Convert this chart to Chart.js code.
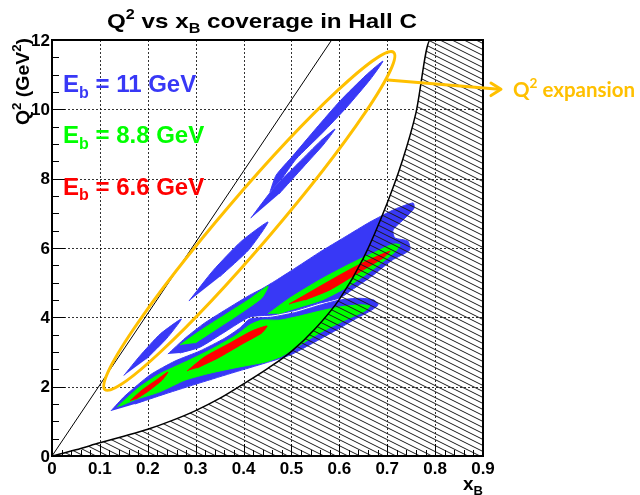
<!DOCTYPE html>
<html>
<head>
<meta charset="utf-8">
<script src="https://cdn.jsdelivr.net/npm/chart.js@4/dist/chart.umd.min.js"></script>
<style>
  html, body { margin: 0; padding: 0; background: #fff; }
  canvas { display: block; }
</style>
</head>
<body>
<canvas id="c" width="640" height="495"></canvas>
<script>
// ---- axis labels ----
const xTickLabels = ['0', '0.1', '0.2', '0.3', '0.4', '0.5', '0.6', '0.7', '0.8', '0.9'];
const yTickLabels = ['0', '2', '4', '6', '8', '10', '12'];

// ---- kinematic coverage outlines, [x_B, Q^2 (GeV^2)] ----
// E_b = 11 GeV
const blue11Lower = [[0.123,1.30],[0.152,1.73],[0.205,2.34],[0.257,2.74],[0.309,3.03],[0.361,3.40],[0.392,3.69],[0.413,3.95],[0.461,4.01],[0.511,4.15],[0.559,4.35],[0.601,4.50],[0.643,4.55],[0.672,4.50],[0.681,4.36],[0.664,4.18],[0.633,3.95],[0.601,3.69],[0.549,3.29],[0.497,2.91],[0.445,2.68],[0.382,2.42],[0.309,2.11],[0.236,1.79],[0.173,1.50]];
const blue11Upper = [[0.242,2.94],[0.278,3.40],[0.319,3.84],[0.372,4.30],[0.413,4.64],[0.438,4.82],[0.466,5.05],[0.518,5.51],[0.559,5.88],[0.612,6.32],[0.664,6.75],[0.716,7.12],[0.754,7.30],[0.756,7.15],[0.737,6.86],[0.712,6.52],[0.716,6.29],[0.743,6.20],[0.747,5.94],[0.710,5.65],[0.668,5.19],[0.626,4.79],[0.601,4.56],[0.559,4.41],[0.511,4.21],[0.461,4.07],[0.413,4.01],[0.361,3.58],[0.309,3.14],[0.267,2.97]];
const blue11Band1 = [[0.150,2.32],[0.183,2.88],[0.226,3.52],[0.270,3.95],[0.240,3.40],[0.197,2.80]];
const blue11Band2 = [[0.286,4.47],[0.337,5.36],[0.395,6.19],[0.451,6.75],[0.411,5.95],[0.351,5.18]];
const blue11Band3 = [[0.415,6.86],[0.462,7.71],[0.516,8.47],[0.561,9.09],[0.591,9.43],[0.568,9.00],[0.525,8.34],[0.474,7.56]];
const blue11Band4 = [[0.455,7.61],[0.468,8.10],[0.503,8.66],[0.552,9.46],[0.602,10.25],[0.656,10.99],[0.691,11.39],[0.665,10.87],[0.616,10.07],[0.564,9.31],[0.510,8.57],[0.478,7.96]];
// E_b = 8.8 GeV
const green88Lower = [[0.136,1.41],[0.180,1.96],[0.225,2.37],[0.278,2.71],[0.330,3.06],[0.382,3.46],[0.413,3.78],[0.438,3.92],[0.476,3.92],[0.518,4.04],[0.559,4.18],[0.601,4.30],[0.643,4.36],[0.664,4.33],[0.653,4.18],[0.612,3.92],[0.559,3.55],[0.518,3.20],[0.480,2.88],[0.445,2.71],[0.392,2.57],[0.330,2.39],[0.278,2.19],[0.225,1.85],[0.173,1.62],[0.142,1.44]];
const green88Mid = [[0.267,3.20],[0.309,3.61],[0.361,4.07],[0.413,4.53],[0.451,4.90],[0.438,4.56],[0.392,4.10],[0.340,3.63],[0.299,3.26]];
const green88Upper = [[0.451,4.10],[0.497,4.56],[0.559,5.08],[0.622,5.54],[0.674,5.88],[0.712,6.11],[0.727,6.09],[0.714,5.86],[0.668,5.36],[0.616,4.87],[0.564,4.50],[0.511,4.27],[0.472,4.10]];
// E_b = 6.6 GeV
const red66Low = [[0.163,1.59],[0.188,1.90],[0.217,2.18],[0.242,2.42],[0.230,2.19],[0.200,1.86],[0.175,1.64]];
const red66Mid = [[0.282,2.45],[0.319,2.86],[0.372,3.26],[0.418,3.61],[0.449,3.75],[0.438,3.55],[0.397,3.23],[0.347,2.83],[0.303,2.54]];
const red66High = [[0.495,4.38],[0.539,4.73],[0.601,5.22],[0.653,5.60],[0.706,5.91],[0.691,5.71],[0.639,5.28],[0.580,4.79],[0.528,4.50]];

// ---- boundaries ----
const w2Boundary = [[0,0],[0.05,0.18],[0.1,0.38],[0.15,0.57],[0.2,0.77],[0.25,1.02],[0.3,1.31],[0.35,1.66],[0.4,2.08],[0.45,2.52],[0.5,3.02],[0.55,3.68],[0.6,4.52],[0.65,5.7],[0.7,7.3],[0.73,8.45],[0.76,9.9],[0.79,12],[0.9,12]];
const yLimitLine = [[0,0],[0.584,12]];

const C11 = '#3838F6', C88 = '#00FF00', C66 = '#FF0000', GOLD = '#FFC000';
const HELV = "'Liberation Sans', Arial, Helvetica, sans-serif";

function region(points, color, order) {
  return { data: points, showLine: true, fill: 'shape', backgroundColor: color, borderColor: color,
           borderWidth: 1, pointRadius: 0, tension: 0.2, order };
}

function hatchPattern() {
  const c = document.createElement('canvas');
  c.width = 12; c.height = 6;
  const g = c.getContext('2d');
  g.strokeStyle = '#1a1a1a'; g.lineWidth = 1;
  for (let k = -1; k <= 1; k++) {
    g.beginPath(); g.moveTo(0, 6 * k); g.lineTo(12, 6 * k + 6); g.stroke();
  }
  return g.createPattern(c, 'repeat');
}

// text with super/subscripts; parts = [[text, ''|'sup'|'sub'], ...]
function drawRich(ctx, parts, x, y, size, opts) {
  const fam = opts.family || HELV;
  const fontFor = k => `bold ${k ? Math.round(size * 0.68) : size}px ${fam}`;
  const shift = k => k === 'sup' ? -size * 0.42 : (k === 'sub' ? size * 0.24 : 0);
  let w = 0;
  for (const [t, k] of parts) { ctx.font = fontFor(k); w += ctx.measureText(t).width; }
  const sx = opts.width ? opts.width / w : 1;
  const start = opts.align === 'right' ? x - w * sx : (opts.align === 'center' ? x - w * sx / 2 : x);
  ctx.save();
  ctx.fillStyle = opts.color || '#000';
  ctx.textBaseline = 'alphabetic'; ctx.textAlign = 'left';
  ctx.translate(start, y); ctx.scale(sx, 1);
  let cx = 0;
  for (const [t, k] of parts) { ctx.font = fontFor(k); ctx.fillText(t, cx, shift(k)); cx += ctx.measureText(t).width; }
  ctx.restore();
}

const decor = {
  id: 'decor',
  beforeDatasetsDraw(chart) {
    const { ctx, chartArea: a, scales: { x, y } } = chart;
    ctx.save();
    ctx.strokeStyle = 'rgba(0,0,0,0.8)'; ctx.lineWidth = 1; ctx.setLineDash([2, 2]);
    for (const lab of xTickLabels) {
      const v = parseFloat(lab); if (v <= 0 || v >= 0.9) continue;
      const px = Math.round(x.getPixelForValue(v)) + 0.5;
      ctx.beginPath(); ctx.moveTo(px, a.top); ctx.lineTo(px, a.bottom); ctx.stroke();
    }
    for (const lab of yTickLabels) {
      const v = parseFloat(lab); if (v <= 0 || v >= 12) continue;
      const py = Math.round(y.getPixelForValue(v)) + 0.5;
      ctx.beginPath(); ctx.moveTo(a.left, py); ctx.lineTo(a.right, py); ctx.stroke();
    }
    ctx.restore();
  },
  afterDatasetsDraw(chart) {
    const { ctx, chartArea: a, scales: { x, y } } = chart;
    ctx.save();
    // inward tick marks
    ctx.strokeStyle = '#000'; ctx.lineWidth = 1;
    for (let i = 0; i <= 45; i++) {
      const px = Math.round(x.getPixelForValue(i * 0.02)) + 0.5;
      const len = i % 5 === 0 ? 12 : 6;
      ctx.beginPath(); ctx.moveTo(px, a.bottom); ctx.lineTo(px, a.bottom - len); ctx.stroke();
    }
    for (let i = 0; i <= 24; i++) {
      const py = Math.round(y.getPixelForValue(i * 0.5)) + 0.5;
      const len = i % 4 === 0 ? 13 : 7;
      ctx.beginPath(); ctx.moveTo(a.left, py); ctx.lineTo(a.left + len, py); ctx.stroke();
    }
    // frame
    ctx.lineWidth = 2;
    ctx.strokeRect(a.left, a.top, a.right - a.left, a.bottom - a.top);
    // highlight ellipse around the high-Q2 settings
    ctx.strokeStyle = GOLD; ctx.lineWidth = 3;
    ctx.beginPath();
    ctx.ellipse(x.getPixelForValue(0.412), y.getPixelForValue(6.78), 222, 25, -0.863, 0, Math.PI * 2);
    ctx.stroke();
    ctx.restore();
  },
  afterDraw(chart) {
    const { ctx, scales: { x, y }, chartArea: a } = chart;
    ctx.save();
    // tick labels
    ctx.fillStyle = '#000'; ctx.font = `bold 17px ${HELV}`;
    ctx.textAlign = 'center'; ctx.textBaseline = 'middle';
    for (const lab of xTickLabels) ctx.fillText(lab, x.getPixelForValue(parseFloat(lab)), a.bottom + 13);
    ctx.textAlign = 'right';
    for (const lab of yTickLabels) ctx.fillText(lab, a.left - 2, y.getPixelForValue(parseFloat(lab)) + 1);
    // title
    drawRich(ctx, [['Q', ''], ['2', 'sup'], [' vs x', ''], ['B', 'sub'], [' coverage in Hall C', '']],
             107, 28, 21, { width: 310 });
    // axis titles
    drawRich(ctx, [['x', ''], ['B', 'sub']], a.right, 490, 19, { align: 'right' });
    ctx.save();
    ctx.translate(29, 38); ctx.rotate(-Math.PI / 2);
    drawRich(ctx, [['Q', ''], ['2', 'sup'], [' (GeV', ''], ['2', 'sup'], [')', '']], 0, 0, 19, { align: 'right', width: 87 });
    ctx.restore();
    // beam energy labels
    drawRich(ctx, [['E', ''], ['b', 'sub'], [' = 11 GeV', '']], 63, 92, 24, { color: C11 });
    drawRich(ctx, [['E', ''], ['b', 'sub'], [' = 8.8 GeV', '']], 63, 143, 24, { color: C88 });
    drawRich(ctx, [['E', ''], ['b', 'sub'], [' = 6.6 GeV', '']], 63, 194.5, 24, { color: C66 });
    // arrow and note
    ctx.strokeStyle = GOLD; ctx.lineWidth = 3; ctx.lineCap = 'round'; ctx.lineJoin = 'round';
    ctx.beginPath(); ctx.moveTo(388, 80); ctx.lineTo(499, 89.3); ctx.stroke();
    ctx.beginPath(); ctx.moveTo(491, 83); ctx.lineTo(501, 89.3); ctx.lineTo(491, 95.6); ctx.stroke();
    drawRich(ctx, [['Q', ''], ['2', 'sup'], [' expansion', '']], 513, 97, 21,
             { color: GOLD, family: "Lato, 'Open Sans', sans-serif", width: 122 });
    ctx.restore();
  }
};

new Chart(document.getElementById('c'), {
  type: 'scatter',
  data: {
    datasets: [
      { data: yLimitLine, showLine: true, fill: false, borderColor: '#000', borderWidth: 1, pointRadius: 0, order: 1 },
      { data: w2Boundary, showLine: true, fill: 'start', backgroundColor: hatchPattern(), borderColor: '#000',
        borderWidth: 1.5, pointRadius: 0, cubicInterpolationMode: 'monotone', order: 2 },
      region(red66Low, C66, 3), region(red66Mid, C66, 3), region(red66High, C66, 3),
      region(green88Lower, C88, 4), region(green88Mid, C88, 4), region(green88Upper, C88, 4),
      region(blue11Lower, C11, 5), region(blue11Upper, C11, 5),
      region(blue11Band1, C11, 5), region(blue11Band2, C11, 5), region(blue11Band3, C11, 5), region(blue11Band4, C11, 5)
    ]
  },
  options: {
    responsive: false, animation: false, devicePixelRatio: 1, events: [],
    layout: { padding: { top: 40, right: 157, bottom: 0, left: 0 } },
    plugins: { legend: { display: false }, tooltip: { enabled: false }, title: { display: false } },
    scales: {
      x: { type: 'linear', min: 0, max: 0.9, ticks: { display: false, stepSize: 0.1 },
           grid: { display: false }, border: { display: false },
           afterFit: s => { s.height = 39; } },
      y: { type: 'linear', min: 0, max: 12, ticks: { display: false, stepSize: 2 },
           grid: { display: false }, border: { display: false },
           afterFit: s => { s.width = 52; } }
    }
  },
  plugins: [decor]
});
</script>
</body>
</html>
